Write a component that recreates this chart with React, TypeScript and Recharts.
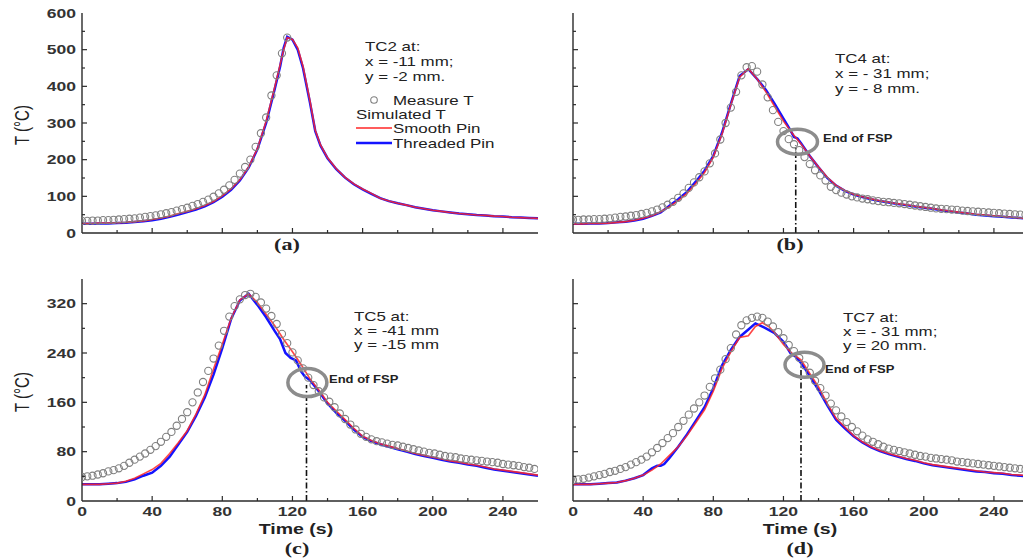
import React from 'react';
import { LineChart, Line, XAxis, YAxis, ReferenceLine, ReferenceDot } from 'recharts';

// ---------- shared time grids / ticks ----------
const tGrid5 = [0,5,10,15,20,25,30,35,40,45,50,55,60,65,70,75,80,85,90,95,100,105,110,115,120,125,130,135,140,145,150,155,160,165,170,175,180,185,190,195,200,205,210,215,220,225,230,235,240,245,250,255,260];
const tMeas3 = [0,3,6,9,12,15,18,21,24,27,30,33,36,39,42,45,48,51,54,57,60,63,66,69,72,75,78,81,84,87,90,93,96,99,102,105,108,111,114,117,120,123,126,129,132,135,138,141,144,147,150,153,156,159,162,165,168,171,174,177,180,183,186,189,192,195,198,201,204,207,210,213,216,219,222,225,228,231,234,237,240,243,246,249,252,255,258];
const xTicks = [0,20,40,60,80,100,120,140,160,180,200,220,240,260];
const yTicksA = [0,50,100,150,200,250,300,350,400,450,500,550,600];
const yTicksC = [0,40,80,120,160,200,240,280,320,360];

// ---------- (a) TC2 ----------
const tSimA = [0,5,10,15,20,25,30,35,40,45,50,55,60,65,70,75,80,85,90,95,100,105,110,113,115,117,120,123,126,130,133,136,140,145,150,155,160,165,170,175,180,185,190,195,200,205,210,215,220,225,230,235,240,245,250,255,260];
const smoothA = [26,26,27,27,28,29,31,33,37,41,46,53,59,66,75,86,101,120,145,180,230,305,400,460,500,533,528,505,455,360,280,240,205,175,152,134,120,108,95,87,81,76,70,66,62,59,56,53,51,49,48,46,45,43,42,41,40];
const threadedA = [25,25,26,26,27,28,30,32,35,39,44,50,57,64,73,84,99,118,143,178,228,300,395,455,505,535,527,500,450,355,278,238,204,174,151,133,119,107,95,87,81,76,70,66,62,59,56,53,51,49,48,46,45,43,42,41,40];
const measA = [33,33,34,34,35,35,36,37,38,39,40,42,44,46,48,51,54,57,61,65,69,74,79,85,91,99,108,118,130,145,162,180,200,235,272,315,375,430,490,533];

// ---------- (b) TC4 ----------
const smoothB = [25,25,26,26,27,29,31,35,40,47,58,72,88,108,135,165,207,270,350,425,448,420,385,345,305,272,243,210,180,152,130,116,106,99,93,88,84,80,77,73,70,67,63,60,57,54,51,49,47,45,43,41,40];
const tThrB = [0,5,10,15,20,25,30,35,40,45,50,55,60,65,70,75,80,85,90,95,100,105,110,115,120,124,126,128,130,135,140,145,150,155,160,165,170,175,180,185,190,195,200,205,210,215,220,225,230,235,240,245,250,255,260];
const threadedB = [25,25,26,26,27,29,31,34,39,47,56,74,92,112,140,170,210,274,352,428,447,420,390,352,312,280,262,258,245,210,179,150,129,115,105,98,92,87,83,79,76,72,69,66,62,59,56,53,50,48,46,44,42,41,39];
const measB = [36,36,37,37,38,38,39,40,42,44,45,47,49,52,55,59,64,70,77,85,96,108,123,138,152,168,190,217,255,300,342,385,430,452,455,440,405,370,335,303,278,256,242,226,207,188,171,157,143,126,117,110,105,100,97,94,92,89,87,85,84,82,81,79,77,75,73,71,69,67,66,65,64,63,61,60,59,58,57,56,55,54,53,52,51,50,50];

// ---------- (c) TC5 ----------
const smoothC = [27,27,27,28,29,32,37,44,51,61,77,95,114,141,172,214,254,296,326,336,322,303,284,262,242,221,198,180,160,146,132,118,105,98,93,89,85,81,77,74,71,68,65,63,60,58,55,52,50,48,46,44,42];
const tThrC = [0,5,10,15,20,25,30,35,40,45,50,55,60,65,70,75,80,85,90,95,100,105,110,113,116,119,122,125,127,130,135,140,145,150,155,160,165,170,175,180,185,190,195,200,205,210,215,220,225,230,235,240,245,250,255,260];
const threadedC = [27,27,27,28,29,31,35,41,46,57,72,92,112,138,168,205,248,295,325,336,318,298,275,262,240,232,228,210,202,196,178,158,143,130,116,104,97,92,88,84,80,76,73,70,67,64,62,59,57,54,51,49,47,45,43,41];
const measC = [39,40,41,43,45,48,50,53,57,62,67,72,77,83,89,96,104,112,122,133,144,160,176,193,211,231,252,276,299,316,327,334,336,331,322,312,300,287,271,256,241,228,215,200,188,178,168,161,152,142,133,124,116,109,104,100,97,95,93,91,90,88,86,84,82,80,78,77,75,73,72,71,69,68,67,66,65,64,63,62,60,59,58,57,55,54,52];

// ---------- (d) TC7 ----------
const tSmD = [0,5,10,15,20,25,30,35,40,45,50,55,60,65,70,75,80,85,90,95,100,104,108,112,115,120,125,130,135,140,145,150,155,160,165,170,175,180,185,190,195,200,205,210,215,220,225,230,235,240,245,250,255,260];
const smoothD = [27,27,27,28,29,30,33,37,42,50,60,74,88,106,127,148,178,215,242,265,268,283,289,282,273,254,239,229,207,185,158,134,120,106,96,88,82,77,73,69,66,62,59,57,55,53,51,49,47,46,45,43,42,41];
const tThrD = [0,5,10,15,20,25,30,35,40,45,48,50,52,55,60,65,70,75,80,85,90,95,100,104,110,115,120,124,127,130,135,140,145,150,155,160,165,170,175,180,185,190,195,200,205,210,215,220,225,230,235,240,245,250,255,260];
const threadedD = [27,27,27,28,29,30,33,37,42,53,57,57,60,70,88,108,130,152,183,220,245,266,278,288,280,272,258,240,234,224,203,180,155,132,118,105,95,87,81,76,72,68,65,61,58,56,54,52,50,48,47,45,44,42,41,40];
const measD = [34,35,36,38,40,42,44,47,49,52,55,59,63,67,72,79,86,94,102,110,120,130,140,150,160,171,185,199,213,230,248,270,285,293,297,299,297,291,283,274,264,253,243,232,220,208,195,183,171,158,147,137,128,120,113,106,100,96,92,88,85,83,81,79,77,75,73,72,70,69,68,67,66,64,63,62,61,60,59,58,57,56,55,54,53,52,51];

// ---------- styling ----------
const SANS = '"Liberation Sans", Arial, sans-serif';
const SERIF = '"Liberation Serif", "Times New Roman", serif';
const AX = '#2a2a2a';
const SX = 1.3;
const TM = 8;
const RED = '#ff2626';
const BLUE = '#1414ff';
const CIRC = '#808080';

type Pt = { t: number; v: number };
const zip = (ts: number[], vs: number[]): Pt[] => vs.map((v, i) => ({ t: ts[i], v }));

const mkBottom = (show: boolean, max: number) => (p: any) => {
  const v = p.payload.value as number;
  const ay = p.y - TM;
  const major = v % 40 === 0;
  return (
    <g>
      {v > 0 && v < max && <line x1={p.x} x2={p.x} y1={ay} y2={ay - (major ? 5 : 3)} stroke={AX} strokeWidth={1.2} />}
      {show && major && v < max && (
        <text transform={`translate(${p.x},${ay + 14.5}) scale(${SX},1)`} textAnchor="middle" fontFamily={SANS} fontWeight={700} fontSize={13.5} fill="#333">{v}</text>
      )}
    </g>
  );
};
const mkTop = (max: number) => (p: any) => {
  const v = p.payload.value as number;
  const ay = p.y + TM;
  const major = v % 40 === 0;
  return <g>{v > 0 && v < max && <line x1={p.x} x2={p.x} y1={ay} y2={ay + (major ? 5 : 3)} stroke={AX} strokeWidth={1.2} />}</g>;
};
const mkLeft = (show: boolean, step: number, max: number) => (p: any) => {
  const v = p.payload.value as number;
  const ax = p.x + TM;
  const major = v % step === 0;
  return (
    <g>
      {v > 0 && v < max && <line x1={ax} x2={ax + (major ? 5 : 3)} y1={p.y} y2={p.y} stroke={AX} strokeWidth={1.2} />}
      {show && major && (
        <text transform={`translate(${ax - 6},${p.y + 4.8}) scale(${SX},1)`} textAnchor="end" fontFamily={SANS} fontWeight={700} fontSize={13.5} fill="#333">{v}</text>
      )}
    </g>
  );
};
const mkRight = (step: number, max: number) => (p: any) => {
  const v = p.payload.value as number;
  const ax = p.x - TM;
  const major = v % step === 0;
  return <g>{v > 0 && v < max && <line x1={ax} x2={ax - (major ? 5 : 3)} y1={p.y} y2={p.y} stroke={AX} strokeWidth={1.2} />}</g>;
};

type Fsp = { t: number; top: number; cx: number; cy: number; rx: number; ry: number };

function Panel(props: {
  left: number; top: number; height: number; xh: number; yMax: number; yTicks: number[]; yStep: number;
  showX: boolean; showY: boolean; smooth: Pt[]; threaded: Pt[]; meas: Pt[]; fsp?: Fsp;
}) {
  const { left, top, height, xh, yMax, yTicks, yStep, showX, showY, smooth, threaded, meas, fsp } = props;
  const axisLine = { stroke: AX, strokeWidth: 1.4 };
  return (
    <div style={{ position: 'absolute', left, top }}>
      <LineChart width={548} height={height} margin={{ top: 13, right: 10, left: 0, bottom: 0 }}>
        <XAxis type="number" dataKey="t" domain={[0, 260]} ticks={xTicks} interval={0} height={xh} tickSize={0} tickMargin={TM} tickLine={false} axisLine={axisLine} tick={mkBottom(showX, 260)} allowDataOverflow />
        <XAxis xAxisId="top" orientation="top" type="number" dataKey="t" domain={[0, 260]} ticks={xTicks} interval={0} height={0} tickSize={0} tickMargin={TM} tickLine={false} axisLine={axisLine} tick={mkTop(260)} allowDataOverflow />
        <YAxis type="number" domain={[0, yMax]} ticks={yTicks} interval={0} width={82} tickSize={0} tickMargin={TM} tickLine={false} axisLine={axisLine} tick={mkLeft(showY, yStep, yMax)} allowDataOverflow />
        <YAxis yAxisId="right" orientation="right" type="number" domain={[0, yMax]} ticks={yTicks} interval={0} width={0} tickSize={0} tickMargin={TM} tickLine={false} axisLine={axisLine} tick={mkRight(yStep, yMax)} allowDataOverflow />
        {fsp && (
          <ReferenceLine segment={[{ x: fsp.t, y: 0 }, { x: fsp.t, y: fsp.top }]} stroke="#111" strokeWidth={1.6} strokeDasharray="6 2.5 1.5 2.5" />
        )}
        <Line data={meas} dataKey="v" stroke="none" isAnimationActive={false} activeDot={false}
          dot={{ r: 3.6, stroke: CIRC, strokeWidth: 1.1, fill: 'none' }} />
        <Line data={threaded} dataKey="v" stroke={BLUE} strokeWidth={2.5} dot={false} activeDot={false} isAnimationActive={false} />
        <Line data={smooth} dataKey="v" stroke={RED} strokeWidth={1.6} strokeOpacity={0.85} dot={false} activeDot={false} isAnimationActive={false} />
        {fsp && (
          <ReferenceDot x={fsp.cx} y={fsp.cy} r={1}
            shape={(p: any) => <ellipse cx={p.cx} cy={p.cy} rx={fsp.rx} ry={fsp.ry} fill="none" stroke="#8c8c8c" strokeWidth={3.5} />} />
        )}
      </LineChart>
    </div>
  );
}

function Txt(p: { x: number; y: number; children: React.ReactNode; size?: number; bold?: boolean; mid?: boolean; serif?: boolean; rot?: boolean }) {
  const { x, y, children, size = 13, bold = false, mid = false, serif = false, rot = false } = p;
  let transform = mid ? `translate(-50%,-50%) scaleX(${SX})` : `translate(0,-50%) scaleX(${SX})`;
  if (rot) transform = `translate(-50%,-50%) rotate(-90deg) scaleY(${SX})`;
  return (
    <div style={{
      position: 'absolute', left: x, top: y, transform, transformOrigin: mid || rot ? 'center center' : 'left center',
      fontSize: size, fontWeight: bold ? 700 : 400, fontFamily: serif ? SERIF : SANS, whiteSpace: 'nowrap',
      lineHeight: 1, color: '#222',
    }}>{children}</div>
  );
}

export default function App() {
  return (
    <div style={{ position: 'absolute', left: 0, top: 0, width: 1023, height: 559, overflow: 'hidden', background: '#fff' }}>
      <Panel left={0} top={0} height={260} xh={27} yMax={600} yTicks={yTicksA} yStep={100} showX={false} showY
        smooth={zip(tSimA, smoothA)} threaded={zip(tSimA, threadedA)} meas={zip(tMeas3, measA)} />
      <Panel left={491} top={0} height={260} xh={27} yMax={600} yTicks={yTicksA} yStep={100} showX={false} showY={false}
        smooth={zip(tGrid5, smoothB)} threaded={zip(tThrB, threadedB)} meas={zip(tMeas3, measB)}
        fsp={{ t: 127, top: 240, cx: 128, cy: 249, rx: 20, ry: 12.5 }} />
      <Panel left={0} top={266} height={293} xh={58} yMax={360} yTicks={yTicksC} yStep={80} showX showY
        smooth={zip(tGrid5, smoothC)} threaded={zip(tThrC, threadedC)} meas={zip(tMeas3, measC)}
        fsp={{ t: 128, top: 188, cx: 128.5, cy: 192, rx: 19.5, ry: 14 }} />
      <Panel left={491} top={266} height={293} xh={58} yMax={360} yTicks={yTicksC} yStep={80} showX showY={false}
        smooth={zip(tSmD, smoothD)} threaded={zip(tThrD, threadedD)} meas={zip(tMeas3, measD)}
        fsp={{ t: 130, top: 218, cx: 132, cy: 221, rx: 19.5, ry: 12.5 }} />

      {/* axis titles */}
      <Txt x={22} y={125} size={15} rot>T (°C)</Txt>
      <Txt x={22} y={392} size={15} rot>T (°C)</Txt>
      <Txt x={296} y={528} size={15} bold mid>Time (s)</Txt>
      <Txt x={800} y={528} size={15} bold mid>Time (s)</Txt>
      <Txt x={287} y={244} size={17} bold mid serif>(a)</Txt>
      <Txt x={790} y={244} size={17} bold mid serif>(b)</Txt>
      <Txt x={297} y={548} size={17} bold mid serif>(c)</Txt>
      <Txt x={800} y={548} size={17} bold mid serif>(d)</Txt>

      {/* panel (a) annotation + legend */}
      <Txt x={365} y={46}>TC2 at:</Txt>
      <Txt x={365} y={61}>x = -11 mm;</Txt>
      <Txt x={365} y={76}>y = -2 mm.</Txt>
      <svg style={{ position: 'absolute', left: 350, top: 92 }} width={45} height={60}>
        <circle cx={24} cy={8} r={3.3} fill="none" stroke={CIRC} strokeWidth={1.1} />
        <line x1={6} x2={42} y1={36} y2={36} stroke={RED} strokeWidth={1.5} />
        <line x1={6} x2={42} y1={51} y2={51} stroke={BLUE} strokeWidth={2.4} />
      </svg>
      <Txt x={393} y={100}>Measure T</Txt>
      <Txt x={356} y={114}>Simulated T</Txt>
      <Txt x={393} y={128}>Smooth Pin</Txt>
      <Txt x={393} y={143}>Threaded Pin</Txt>

      {/* panel (b) */}
      <Txt x={835} y={58}>TC4 at:</Txt>
      <Txt x={835} y={73}>x = - 31 mm;</Txt>
      <Txt x={835} y={88}>y = - 8 mm.</Txt>
      <Txt x={823} y={139} size={10} bold>End of FSP</Txt>

      {/* panel (c) */}
      <Txt x={354} y={316}>TC5 at:</Txt>
      <Txt x={354} y={330}>x = -41 mm</Txt>
      <Txt x={354} y={344}>y = -15 mm</Txt>
      <Txt x={329} y={380} size={10} bold>End of FSP</Txt>

      {/* panel (d) */}
      <Txt x={843} y={317}>TC7 at:</Txt>
      <Txt x={843} y={331}>x = - 31 mm;</Txt>
      <Txt x={843} y={345}>y = 20 mm.</Txt>
      <Txt x={825} y={370} size={10} bold>End of FSP</Txt>
    </div>
  );
}
